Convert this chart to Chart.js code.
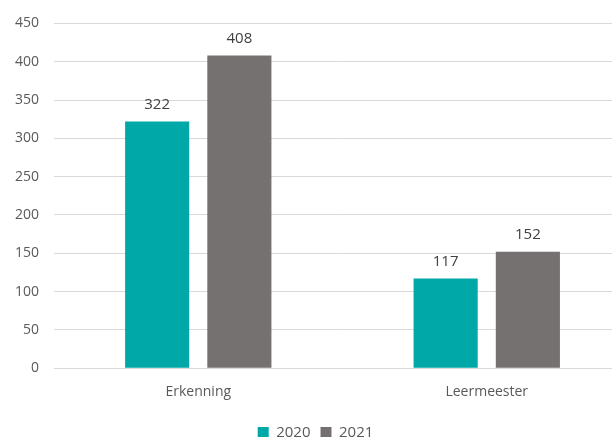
<!DOCTYPE html>
<html>
<head>
<meta charset="utf-8">
<script src="https://cdn.jsdelivr.net/npm/chart.js"></script>
<style>
  html, body { margin: 0; padding: 0; background: #fff; overflow: hidden; }
  #wrap { width: 612px; height: 437px; overflow: hidden; }
</style>
</head>
<body>
<div id="wrap"><canvas id="chart" width="631" height="450"></canvas></div>
<script>
const categories = ["Erkenning", "Leermeester"];
const series2020 = [322, 117];
const series2021 = [408, 152];
const yTicks = [0, 50, 100, 150, 200, 250, 300, 350, 400, 450];

const txt = "#595959";
const fam = "'Open Sans', sans-serif";

// values above the bars
const valueLabels = {
  id: "valueLabels",
  afterDatasetsDraw(chart) {
    const ctx = chart.ctx;
    ctx.save();
    ctx.font = "15px " + fam;
    ctx.fillStyle = "#404040";
    ctx.textAlign = "center";
    ctx.textBaseline = "bottom";
    chart.data.datasets.forEach((ds, i) => {
      chart.getDatasetMeta(i).data.forEach((bar, j) => {
        ctx.fillText(ds.data[j], bar.x, bar.y - 9);
      });
    });
    ctx.restore();
  }
};

new Chart(document.getElementById("chart"), {
  type: "bar",
  data: {
    labels: categories,
    datasets: [
      { label: "2020", data: series2020, backgroundColor: "#00A9A8" },
      { label: "2021", data: series2021, backgroundColor: "#767171" }
    ]
  },
  options: {
    responsive: false,
    animation: false,
    categoryPercentage: 0.57,
    barPercentage: 0.78,
    layout: { padding: { top: 4, left: 0, right: 0, bottom: 0 } },
    plugins: {
      legend: {
        position: "bottom",
        labels: {
          boxWidth: 11, boxHeight: 11, padding: 10,
          color: txt,
          font: { size: 15, family: fam }
        }
      },
      tooltip: { enabled: false }
    },
    scales: {
      x: {
        grid: { display: false, drawTicks: false },
        border: { color: "#d9d9d9" },
        ticks: { color: txt, padding: 15, font: { size: 14, family: fam } }
      },
      y: {
        min: 0, max: 450,
        afterBuildTicks(axis) { axis.ticks = yTicks.map(v => ({ value: v })); },
        grid: { color: "#d9d9d9", drawTicks: false },
        border: { display: false },
        ticks: { color: txt, padding: 15, font: { size: 14, family: fam } }
      }
    }
  },
  plugins: [valueLabels]
});
</script>
</body>
</html>
